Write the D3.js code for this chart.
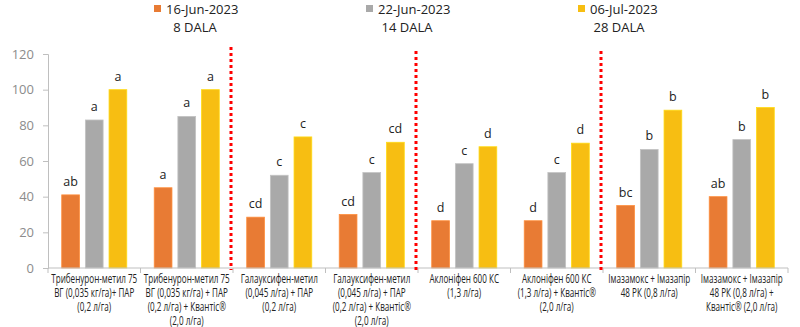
<!DOCTYPE html>
<html>
<head>
<meta charset="utf-8">
<script src="https://cdn.jsdelivr.net/npm/d3@7"></script>
<style>
  body { margin: 0; background: #fff; }
  svg { display: block; }
  text { font-family: "Open Sans", sans-serif; }
</style>
</head>
<body>
<div id="chart"></div>
<script>
// treatments (multi-line labels)
var categories = [
  ["Трибенурон-метил 75", "ВГ (0,035 кг/га)+ ПАР", "(0,2 л/га)"],
  ["Трибенурон-метил 75", "ВГ (0,035 кг/га) + ПАР", "(0,2 л/га) + Квантіс®", "(2,0 л/га)"],
  ["Галауксифен-метил", "(0,045 л/га) + ПАР", "(0,2 л/га)"],
  ["Галауксифен-метил", "(0,045 л/га) + ПАР", "(0,2 л/га) + Квантіс®", "(2,0 л/га)"],
  ["Аклоніфен 600 КС", "(1,3 л/га)"],
  ["Аклоніфен 600 КС", "(1,3 л/га) + Квантіс®", "(2,0 л/га)"],
  ["Імазамокс + Імазапір", "48 РК (0,8 л/га)"],
  ["Імазамокс + Імазапір", "48 РК (0,8 л/га) +", "Квантіс® (2,0 л/га)"]
]
var seriesNames = ["16-Jun-2023", "22-Jun-2023", "06-Jul-2023"]
var seriesSub = ["8 DALA", "14 DALA", "28 DALA"]
var colors = ["#E87B34", "#A9A9A9", "#F7BE12"]

var jun16 = [41, 45, 28.5, 30, 26.5, 26.5, 35, 40]
var jun22 = [83, 85, 52, 53.5, 58.5, 53.5, 66.5, 72]
var jul06 = [100, 100, 73.5, 70.5, 68, 70, 88.5, 90]

var lettersJun16 = ["ab", "a", "cd", "cd", "d", "d", "bc", "ab"]
var lettersJun22 = ["a", "a", "c", "c", "c", "c", "b", "b"]
var lettersJul06 = ["a", "a", "c", "cd", "d", "d", "b", "b"]

var yTicks = [0, 20, 40, 60, 80, 100, 120]
// group boundaries drawn as red dotted lines (after these category indices)
var separators = [2, 4, 6]

var w = 800, h = 327
var margin = {top: 54, right: 12, bottom: 59, left: 48}
var innerWidth = w - margin.left - margin.right
var innerHeight = h - margin.top - margin.bottom

var svg = d3.select("#chart").append("svg")
  .attr("width", w)
  .attr("height", h)

var g = svg.append("g")
  .attr("transform", `translate(${margin.left},${margin.top})`)

var idx = d3.range(categories.length)
var x0 = d3.scaleBand().domain(idx).range([0, innerWidth]).padding(0)
var x1 = d3.scaleBand().domain([0, 1, 2]).range([0, x0.bandwidth()])
  .paddingInner(0.25).paddingOuter(0.58)
var y = d3.scaleLinear().domain([0, 120]).range([innerHeight, 0])

var series = [jun16, jun22, jul06]
var letters = [lettersJun16, lettersJun22, lettersJul06]

// y axis
var yAxis = d3.axisLeft(y).tickValues(yTicks).tickSize(5).tickPadding(9)
var ya = g.append("g").call(yAxis)
ya.select(".domain").attr("stroke", "#bfbfbf")
ya.selectAll(".tick line").attr("stroke", "#bfbfbf")
ya.selectAll(".tick text")
  .attr("fill", "#8c8c8c")
  .style("font-family", "'Open Sans', sans-serif")
  .style("font-size", "13px")

// bars
series.forEach(function(vals, s) {
  g.append("g").selectAll("rect")
    .data(vals)
    .enter().append("rect")
      .attr("x", (d, i) => x0(i) + x1(s))
      .attr("y", d => y(d))
      .attr("width", x1.bandwidth())
      .attr("height", d => innerHeight - y(d))
      .attr("fill", colors[s])
      .attr("stroke", d3.color(colors[s]).brighter(0.4))
      .attr("stroke-width", 0.8)

  g.append("g").selectAll("text")
    .data(vals)
    .enter().append("text")
      .attr("x", (d, i) => x0(i) + x1(s) + x1.bandwidth() / 2)
      .attr("y", d => y(d) - 9)
      .attr("text-anchor", "middle")
      .style("font-size", "12.5px")
      .attr("fill", "#222")
      .text((d, i) => letters[s][i])
})

// x axis line and boundary ticks
g.append("line")
  .attr("x1", 0).attr("x2", innerWidth)
  .attr("y1", innerHeight).attr("y2", innerHeight)
  .attr("stroke", "#bfbfbf")
g.append("g").selectAll("line")
  .data(d3.range(categories.length + 1))
  .enter().append("line")
    .attr("x1", d => d * x0.step()).attr("x2", d => d * x0.step())
    .attr("y1", innerHeight).attr("y2", innerHeight + 5)
    .attr("stroke", "#bfbfbf")

// category labels, one text per line, narrowed with textLength
var labelLines = []
categories.forEach(function(lines, i) {
  lines.forEach(function(t, k) { labelLines.push({cat: i, row: k, text: t}) })
})
var labels = g.append("g").selectAll("text")
  .data(labelLines)
  .enter().append("text")
    .attr("x", d => x0(d.cat) + x0.bandwidth() / 2)
    .attr("y", d => innerHeight + 15 + d.row * 14)
    .attr("text-anchor", "middle")
    .attr("fill", "#222")
    .style("font-size", "12px")
    .text(d => d.text)

var squeeze = 86 / labels.node().getComputedTextLength()
labels.each(function() {
  var len = this.getComputedTextLength()
  d3.select(this)
    .attr("textLength", len * squeeze)
    .attr("lengthAdjust", "spacingAndGlyphs")
})

// red dotted separators
g.append("g").selectAll("line")
  .data(separators)
  .enter().append("line")
    .attr("x1", d => x0(d) - 2).attr("x2", d => x0(d) - 2)
    .attr("y1", (d, i) => i == 0 ? -7 : -3).attr("y2", innerHeight + 2)
    .attr("stroke", "#ff0000")
    .attr("stroke-width", 3)
    .attr("stroke-dasharray", "3,3")

// legend
var legendX = [154, 366, 578]
var legend = svg.append("g").selectAll("g")
  .data(seriesNames)
  .enter().append("g")
    .attr("transform", (d, i) => `translate(${legendX[i]},0)`)
legend.append("rect")
  .attr("x", 0).attr("y", 5)
  .attr("width", 7).attr("height", 7)
  .attr("fill", (d, i) => colors[i])
legend.append("text")
  .attr("x", 12).attr("y", 14)
  .style("font-size", "13px")
  .attr("fill", "#222")
  .text(d => d)
legend.append("text")
  .attr("x", 41).attr("y", 32)
  .attr("text-anchor", "middle")
  .style("font-size", "13px")
  .attr("fill", "#222")
  .text((d, i) => seriesSub[i])
</script>
</body>
</html>
